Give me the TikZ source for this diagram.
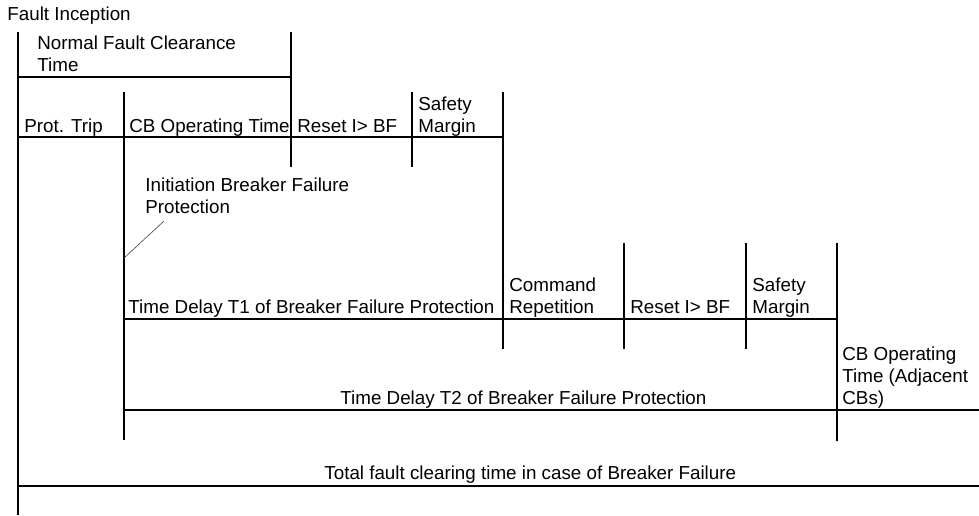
\documentclass[tikz,border=0pt]{standalone}
\usepackage{fontspec}
\setmainfont{Liberation Sans}

\begin{document}
\begin{tikzpicture}[
  x=0.5pt, y=-0.5pt,
  % Text styles
  caption/.style={
    anchor=base west,
    inner sep=0pt,
    align=left,
    font=\fontsize{9.4}{11}\selectfont,
  },
  % Line styles
  bar/.style={
    line width=0.55pt,
    black,
  },
  leader/.style={
    line width=0.3pt,
    black!75,
  },
]
\useasboundingbox (0,0) rectangle (979,515);

% ── Time marks ──
\coordinate (incTop) at (18,32);
\coordinate (incBot) at (18,515);
\coordinate (clearTop) at (291,32);
\coordinate (clearBot) at (291,167);
\coordinate (tripTop) at (124,92);
\coordinate (tripBot) at (124,440);
\coordinate (resetTop) at (412,92);
\coordinate (resetBot) at (412,167);
\coordinate (marginTop) at (503,92);
\coordinate (marginBot) at (503,349);
\coordinate (repTop) at (624,243);
\coordinate (repBot) at (624,349);
\coordinate (reset2Top) at (746,243);
\coordinate (reset2Bot) at (746,349);
\coordinate (adjTop) at (837,243);
\coordinate (adjBot) at (837,441);

% ── Baselines ──
\coordinate (normalL) at (18,77);
\coordinate (normalR) at (291,77);
\coordinate (row1L) at (18,137);
\coordinate (row1R) at (503,137);
\coordinate (t1L) at (124,319);
\coordinate (t1R) at (837,319);
\coordinate (t2L) at (124,410);
\coordinate (t2R) at (979,410);
\coordinate (totalL) at (18,486);
\coordinate (totalR) at (979,486);
\coordinate (initPt) at (124,258);
\coordinate (initEnd) at (164,221);

% ── Labels (base = last line) ──
\node[caption] (inception) at (7,20) {Fault Inception};
\node[caption] (normal) at (37,71) {Normal Fault Clearance\\Time};
\node[caption] (prottrip) at (24,132) {Prot. Trip};
\node[caption] (cbtime) at (129,132) {CB Operating Time};
\node[caption] (reset) at (297,132) {Reset I> BF};
\node[caption] (margin) at (418,132) {Safety\\Margin};
\node[caption] (initiation) at (145,213) {Initiation Breaker Failure\\Protection};
\node[caption] (delayone) at (128,313) {Time Delay T1 of Breaker Failure Protection};
\node[caption] (repetition) at (509,313) {Command\\Repetition};
\node[caption] (resettwo) at (630,313) {Reset I> BF};
\node[caption] (margintwo) at (752,313) {Safety\\Margin};
\node[caption] (adjacent) at (842,404) {CB Operating\\Time (Adjacent\\CBs)};
\node[caption] (delaytwo) at (340,404) {Time Delay T2 of Breaker Failure Protection};
\node[caption] (total) at (324,479) {Total fault clearing time in case of Breaker Failure};

% ── Vertical marks ──
\draw[bar] (incTop) -- (incBot);
\draw[bar] (clearTop) -- (clearBot);
\draw[bar] (tripTop) -- (tripBot);
\draw[bar] (resetTop) -- (resetBot);
\draw[bar] (marginTop) -- (marginBot);
\draw[bar] (repTop) -- (repBot);
\draw[bar] (reset2Top) -- (reset2Bot);
\draw[bar] (adjTop) -- (adjBot);

% ── Horizontal spans ──
\draw[bar] (normalL) -- (normalR);
\draw[bar] (row1L) -- (row1R);
\draw[bar] (t1L) -- (t1R);
\draw[bar] (t2L) -- (t2R);
\draw[bar] (totalL) -- (totalR);

% Leader to initiation label
\draw[leader] (initPt) -- (initEnd);

\end{tikzpicture}
\end{document}
